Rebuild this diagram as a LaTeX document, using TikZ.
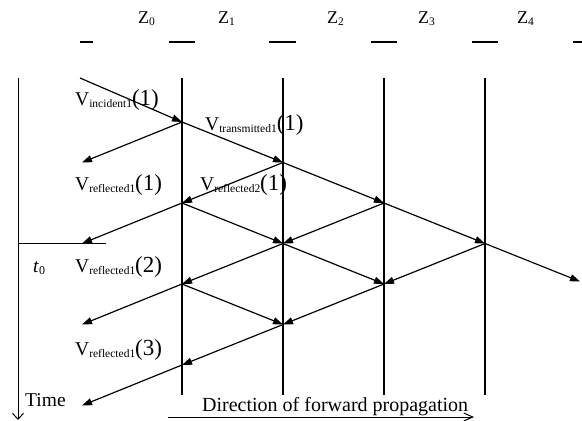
\documentclass[tikz,border=0pt]{standalone}
\usepackage{fontspec}
\setmainfont{Liberation Serif}
\usetikzlibrary{arrows.meta}

% voltage label: V, small subscript, big (n)
\newcommand{\vsubtext}[1]{\raisebox{-0.3ex}{\fontsize{11.5}{12}\selectfont #1}}
\newcommand{\vlab}[2]{V\vsubtext{#1}{\fontsize{23}{24}\selectfont(#2)}}
\newcommand{\zlab}[1]{Z\raisebox{-0.25ex}{\fontsize{11.5}{12}\selectfont #1}}

\begin{document}
\begin{tikzpicture}[x=1pt,y=-1pt,
    ray/.style={line width=1.2pt,-{Triangle[length=10pt,width=7pt]}},
    bound/.style={line width=1.2pt},
    lbl/.style={inner sep=0pt,anchor=base west,font=\fontsize{19.5}{22}\selectfont},
    zname/.style={inner sep=0pt,anchor=base west,font=\fontsize{18}{20}\selectfont}]
        \useasboundingbox (0,0) rectangle (582,421);

        % Impedance sections along the top
        \node[zname] (z0) at (138,23) {\zlab{0}};
        \node[zname] (z1) at (218,23) {\zlab{1}};
        \node[zname] (z2) at (327,23) {\zlab{2}};
        \node[zname] (z3) at (418,23) {\zlab{3}};
        \node[zname] (z4) at (517,23) {\zlab{4}};
        \foreach \xa/\xb in {80/93,169/195,269/296,371/397,472/498,573/582}
            \draw[line width=1.2pt] (\xa,42) -- (\xb,42);

        % Boundaries between sections
        \foreach \xx in {182,283,384,485}
            \draw[bound] (\xx,78) -- (\xx,395);

        % Time axis and t0 mark
        \coordinate (ttop) at (18,78);
        \coordinate (tbot) at (18,420);
        \draw[line width=1pt,-{Straight Barb[length=6pt,width=11pt]}] (ttop) -- (tbot);
        \coordinate (tzero) at (18,243.5);
        \coordinate (tzeroend) at (106,243.5);
        \draw[line width=1.2pt] (tzero) -- (tzeroend);

        % Lattice points
        \coordinate (in0) at (80,78);
        \coordinate (A1) at (182,122);
        \coordinate (L2) at (82,162.5);
        \coordinate (B2) at (283,162.5);
        \coordinate (A3) at (182,203);
        \coordinate (C3) at (384,203);
        \coordinate (L4) at (82,243.5);
        \coordinate (B4) at (283,243.5);
        \coordinate (D4) at (485,243.5);
        \coordinate (A5) at (182,284);
        \coordinate (C5) at (384,284);
        \coordinate (out) at (580,281.5);
        \coordinate (L6) at (82,324.5);
        \coordinate (B6) at (283,324.5);
        \coordinate (A7) at (182,365);
        \coordinate (L8) at (82,405.5);

        % Incident, reflected and transmitted waves
        \draw[ray] (in0) -- (A1);
        \draw[ray] (A1) -- (L2);
        \draw[ray] (A1) -- (B2);
        \draw[ray] (B2) -- (A3);
        \draw[ray] (B2) -- (C3);
        \draw[ray] (A3) -- (L4);
        \draw[ray] (A3) -- (B4);
        \draw[ray] (C3) -- (B4);
        \draw[ray] (C3) -- (D4);
        \draw[ray] (B4) -- (A5);
        \draw[ray] (B4) -- (C5);
        \draw[ray] (D4) -- (C5);
        \draw[ray] (D4) -- (out);
        \draw[ray] (A5) -- (L6);
        \draw[ray] (A5) -- (B6);
        \draw[ray] (C5) -- (B6);
        \draw[ray] (B6) -- (A7);
        \draw[ray] (A7) -- (L8);

        % Wave labels
        \node[lbl] (vinc) at (75,105) {\vlab{incident1}{1}};
        \node[lbl] (vtr) at (205,130) {\vlab{transmitted1}{1}};
        \node[lbl] (vref11) at (75,190) {\vlab{reflected1}{1}};
        \node[lbl] (vref21) at (200,190) {\vlab{reflected2}{1}};
        \node[lbl] (vref12) at (75,272) {\vlab{reflected1}{2}};
        \node[lbl] (vref13) at (75,355) {\vlab{reflected1}{3}};
        \node[lbl] (tz) at (33,272) {\textit{t}\raisebox{-0.25ex}{\fontsize{12}{12}\selectfont 0}};
        \node[lbl] (time) at (25,406) {Time};

        % Direction of forward propagation
        \node[lbl,font=\fontsize{20}{22}\selectfont] (dir) at (202,411) {Direction of forward propagation};
        \coordinate (dirs) at (168,417);
        \coordinate (dire) at (474,417);
        \draw[line width=1pt,-{Straight Barb[length=9pt,width=8pt]}] (dirs) -- (dire);
    \end{tikzpicture}
\end{document}
